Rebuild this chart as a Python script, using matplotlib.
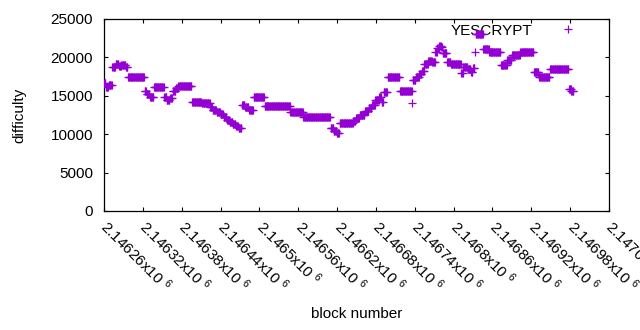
import numpy as np
import matplotlib
matplotlib.use("Agg")
import matplotlib.pyplot as plt

plt.rcParams["font.family"] = ["Liberation Sans", "DejaVu Sans"]
plt.rcParams["mathtext.default"] = "regular"

# difficulty held constant over runs of blocks (offsets from first block)
base_block = 2146260
run_start = [0, 3, 7, 13, 18, 23, 27, 34, 37, 63, 66, 71, 77, 93, 97, 102, 106, 111,
             115, 136, 151, 164, 168, 174, 180, 185, 190, 194, 199, 204, 208, 213, 218,
             224, 231, 248, 288, 308, 350, 355, 360, 364, 385, 389, 395, 403, 409, 414,
             419, 425, 429, 432, 438, 457, 476, 477, 482, 487, 491, 495, 501, 507, 512,
             515, 518, 521, 523, 530, 536, 552, 555, 562, 567, 570, 573, 574, 586, 595,
             613, 623, 630, 643, 664, 672, 689, 718, 722]
run_end = [2, 6, 12, 17, 22, 26, 33, 36, 62, 65, 70, 76, 92, 96, 101, 105, 110, 114,
           135, 150, 163, 167, 173, 179, 184, 189, 193, 198, 203, 207, 212, 217, 223,
           230, 247, 287, 307, 349, 354, 359, 363, 384, 388, 394, 402, 408, 413, 418,
           424, 428, 431, 437, 456, 475, 476, 481, 486, 490, 494, 500, 506, 511, 514,
           517, 520, 522, 529, 535, 551, 554, 561, 566, 569, 572, 573, 585, 594, 612,
           622, 629, 642, 663, 671, 688, 717, 721, 725]
run_diff = [16700, 16200, 16450, 18700, 19100, 18850, 19000, 18800, 17500, 15600, 15200,
            14850, 16100, 14800, 14450, 14700, 15600, 16000, 16250, 14200, 14100, 13500,
            13100, 12850, 12600, 12200, 11850, 11550, 11300, 11050, 10850, 13850, 13500,
            13200, 14900, 13700, 12850, 12300, 10800, 10450, 10150, 11500, 11700, 12100,
            12500, 13000, 13400, 13800, 14450, 14800, 14200, 15450, 17400, 15600, 14000,
            17000, 17400, 17900, 18200, 19100, 19500, 19350, 20650, 21200, 21500, 21300,
            20550, 19350, 19100, 17950, 18700, 18450, 18050, 18600, 20650, 23100, 21150,
            20650, 19000, 19700, 20300, 20700, 18070, 17400, 18550, 15900, 15600]

tick_blocks = list(range(2146260, 2147041, 60))

blocks = []
diffs = []
for s, e, d in zip(run_start, run_end, run_diff):
    for b in range(s, e + 1):
        blocks.append(base_block + b)
        diffs.append(d)

fig = plt.figure(figsize=(6.4, 3.3), dpi=100)
ax = fig.add_axes([104 / 640, 1 - 211 / 330, 505 / 640, 192 / 330])

ax.plot(blocks, diffs, linestyle="none", marker="+", color="#9400d3",
        markersize=5.4, markeredgewidth=0.9, label="YESCRYPT", zorder=3)

ax.set_xlim(2146260, 2147040)
ax.set_ylim(0, 25000)
ax.set_yticks(range(0, 25001, 5000))
ax.set_xticks(tick_blocks)
labels = ["%gx10 $^{6}$" % (b / 1e6) for b in tick_blocks]
ax.set_xticklabels(labels, rotation=-45, ha="left", va="center",
                   rotation_mode="anchor")
ax.tick_params(direction="in", length=3, width=0.8, top=True, right=True,
               labelsize=11)
ax.tick_params(axis="x", pad=9)
ax.tick_params(axis="y", pad=8)
for sp in ax.spines.values():
    sp.set_linewidth(0.9)

ax.set_xlabel("block number", fontsize=11, labelpad=9)
ax.set_ylabel("difficulty", fontsize=11, labelpad=17)

leg = ax.legend(loc="upper right", markerfirst=False, frameon=False, fontsize=11,
                bbox_to_anchor=(0.958, 1.0), borderaxespad=0, borderpad=0.3,
                handletextpad=1.3)
leg.set_zorder(1)

fig.savefig("out.png", dpi=100)
